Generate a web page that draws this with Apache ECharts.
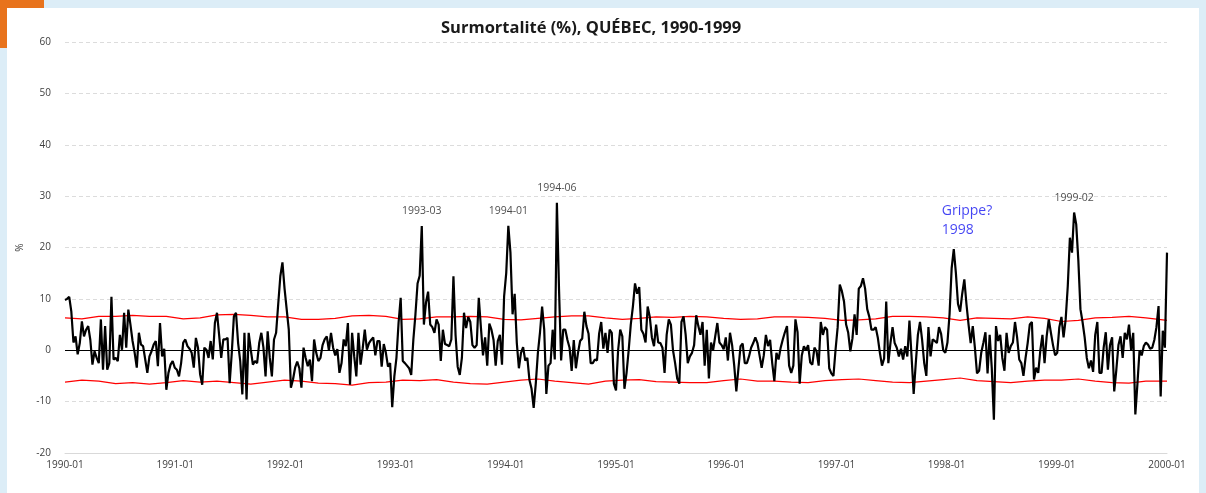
<!DOCTYPE html>
<html><head><meta charset="utf-8">
<script src="https://cdn.jsdelivr.net/npm/echarts@6.0.0/dist/echarts.min.js"></script>
<style>
html,body{margin:0;padding:0;width:1206px;height:493px;overflow:hidden;background:#dcedf7;}
#corner{position:absolute;left:0;top:0;width:44px;height:48px;background:#e8731c;border-bottom-right-radius:28px;}
#chart{position:absolute;left:7px;top:8px;width:1192px;height:485px;background:#fff;}
</style></head><body>
<div id="corner"></div><div id="chart"></div>
<script>
// Weekly excess mortality (%) by year
const excess1990 = [9.8,10.0,10.4,7.5,1.5,2.7,-0.8,1.4,5.6,2.7,4.0,4.7,2.0,-2.8,-0.2,-1.5,-2.5,6.0,-3.8,4.7,-3.8,-2.5,10.4,-1.8,-1.5,-2.1,3.0,0.1,7.3,0.5,7.9,5.0,1.8,-0.5,-3.4,3.4,1.1,0.8,-1.8,-4.4,-1.2,-0.2,1.1,1.8,-3.1,5.3,-1.2,0.3,-7.7,-4.4,-2.8,-2.1];
const excess1991 = [-3.4,-3.8,-5.1,-2.5,1.5,2.1,0.8,0.3,-0.5,-3.4,2.4,0.5,-4.7,-6.7,0.5,0.1,-1.5,1.8,-1.8,5.3,7.3,3.0,-1.5,2.1,2.1,2.4,-6.4,-0.5,6.6,7.3,1.4,-2.1,-8.6,3.4,-9.6,3.4,0.1,-2.8,-2.1,-2.5,1.4,3.4,0.5,-5.1,3.7,-1.5,-5.1,2.1,3.4,9.0,14.4,17.1];
const excess1992 = [12.0,8.0,4.0,-7.3,-5.7,-3.4,-2.2,-3.5,-7.3,0.5,-1.5,-3.1,-1.8,-6.0,2.1,-0.5,-2.1,-1.5,1.0,2.1,2.7,0.0,3.4,0.5,-1.0,0.2,-4.4,-2.5,2.1,0.8,5.3,-6.7,3.4,-1.2,-5.1,3.4,-2.8,0.3,4.0,0.1,1.4,2.0,2.5,-1.0,1.8,1.8,-3.2,1.2,-0.5,-3.2,-2.5,-11.1];
const excess1993 = [-5.1,-1.5,5.3,10.2,-2.1,-2.5,-3.0,-3.5,-4.8,2.0,7.0,13.0,14.5,24.2,5.0,9.3,11.4,5.0,4.5,3.4,6.0,5.0,-2.1,4.0,1.2,1.0,0.8,2.1,14.4,3.0,-3.2,-4.8,-1.5,7.3,4.3,6.5,5.5,1.0,0.5,1.0,10.2,4.5,-1.0,2.5,-3.0,5.2,4.0,2.0,-3.0,1.8,3.0,-2.8];
const excess1994 = [10.5,15.0,24.2,19.0,7.0,11.0,1.5,-3.5,-0.5,0.6,-2.0,-1.5,-5.8,-7.5,-11.2,-6.5,-0.5,3.5,8.5,4.0,-8.5,-3.0,-2.5,4.0,-1.8,28.7,12.0,-2.0,4.0,4.0,2.0,0.5,-4.0,2.0,-3.5,-0.5,1.8,2.3,7.5,4.7,3.2,-2.5,-2.5,-1.8,-2.0,3.2,5.5,0.3,3.4,-0.5,4.0,3.4];
const excess1995 = [-6.5,-7.8,0.0,4.0,2.7,-7.5,-4.4,0.0,5.0,8.5,13.0,11.0,12.3,4.0,3.2,1.5,8.5,6.5,2.5,0.8,5.0,1.5,1.4,0.5,-4.4,3.0,6.0,5.0,0.0,-2.5,-5.5,-6.5,5.5,6.6,3.0,-2.5,-1.2,-0.5,1.0,6.8,4.7,3.0,5.5,-3.0,4.0,-5.5,1.5,0.0,2.7,5.3,1.5,1.0];
const excess1996 = [0.2,2.5,-2.0,3.4,1.0,-3.0,-8.0,-3.5,0.8,1.3,-2.5,-2.5,-1.2,0.5,1.4,2.5,1.4,-1.0,-3.4,-1.0,3.0,0.8,2.0,-2.5,-6.0,-0.5,-1.8,0.5,2.1,3.5,4.7,-3.0,-4.4,-3.0,6.0,3.5,-6.5,-1.0,0.8,0.0,1.0,-2.4,-2.8,0.5,-0.2,-3.0,5.5,3.0,4.5,4.0,-3.5,-4.5];
const excess1997 = [-5.0,0.1,4.5,12.8,11.5,9.5,5.0,3.4,-0.2,2.3,7.0,3.0,12.0,12.5,14.0,12.0,8.0,6.5,4.0,4.0,4.5,2.5,-0.5,-3.0,-1.6,9.5,-2.5,1.4,4.5,1.4,0.5,-1.2,0.3,-1.8,0.8,-1.2,5.8,-1.2,-8.5,-2.5,3.0,5.5,2.0,-2.5,-5.0,4.5,-1.2,2.1,1.8,1.4,4.5,3.2];
const excess1998 = [0.0,-0.5,1.5,7.0,16.0,19.7,15.0,9.0,7.5,11.0,13.8,9.0,5.0,1.4,4.7,0.5,-4.5,-4.0,-0.5,1.4,3.5,-4.5,3.0,-3.5,-13.5,4.7,1.8,3.0,-1.5,-4.0,3.4,-0.5,0.8,1.5,5.5,2.5,-1.8,-2.5,-5.0,-1.5,1.4,5.0,5.5,-5.7,-3.4,-4.4,0.0,3.0,-2.5,2.7,6.0,3.4];
const excess1999 = [1.0,-1.0,-0.5,4.5,6.5,2.5,6.0,12.5,21.9,19.0,26.8,24.5,17.5,8.0,5.5,2.5,-1.5,-3.5,-2.0,-4.2,3.0,5.5,-4.4,-4.4,0.5,3.5,-3.8,1.0,2.5,-8.0,-3.8,1.0,2.7,-1.5,3.4,2.1,5.0,0.0,3.4,-12.5,-6.5,0.0,-1.0,0.8,1.5,1.1,0.3,0.5,2.0,4.5,8.6,-9.0,3.8,0.5,19.0];

// Upper / lower thresholds, sampled every 8 weeks (last value at the end of 1999)
const upperBound = [6.3,6.1,6.6,6.6,6.8,6.6, 6.6,6.1,6.3,6.9,7.0,6.8, 6.5,6.5,6.0,6.0,6.2,6.7, 6.8,6.6,6.0,6.1,6.5,6.5, 6.6,6.5,6.0,5.9,6.2,6.5, 6.7,6.7,6.3,6.0,6.2,6.5, 6.4,6.6,6.5,6.2,6.0,6.1, 6.5,6.5,6.4,6.2,5.8,5.9, 6.1,6.6,6.6,6.5,6.3,5.8, 6.3,6.2,6.1,6.5,6.2,5.6, 5.8,6.3,6.4,6.6,6.3,5.9,5.8];
const lowerBound = [-6.2,-5.8,-6.0,-6.5,-6.3,-6.6, -6.3,-5.9,-6.2,-6.0,-6.3,-6.6, -6.2,-5.8,-6.0,-6.4,-6.5,-6.8, -6.3,-6.2,-5.8,-5.9,-5.7,-6.2, -6.5,-6.6,-6.2,-5.8,-5.6,-6.0, -6.3,-6.6,-6.0,-5.8,-5.7,-6.1, -6.2,-6.3,-6.3,-5.9,-5.6,-6.0, -6.0,-6.2,-6.3,-5.9,-5.7,-5.6, -5.9,-6.2,-6.3,-6.0,-5.7,-5.4, -5.9,-6.1,-6.3,-6.0,-5.8,-5.8, -5.6,-6.0,-6.3,-6.4,-6.0,-6.0,-6.0];

// Peak annotations: week index from 1990-01 and text
const peakWeeks = [169, 210, 233, 478];
const peakLabels = ['1993-03', '1994-01', '1994-06', '1999-02'];
const fluWeek = 421;
const fluLabel = 'Grippe?\n1998';

const yearTicks = [1990,1991,1992,1993,1994,1995,1996,1997,1998,1999,2000];

const excess = [].concat(excess1990, excess1991, excess1992, excess1993, excess1994,
  excess1995, excess1996, excess1997, excess1998, excess1999);
const nWeeks = excess.length - 1;
const xOf = i => 1990 + i * 10 / nWeeks;
const boundWeek = k => (k < upperBound.length - 1 ? k * 8 : nWeeks);

const mainData = excess.map((v, i) => [xOf(i), v]);
const upperData = upperBound.map((v, k) => [xOf(boundWeek(k)), v]);
const lowerData = lowerBound.map((v, k) => [xOf(boundWeek(k)), v]);
const peakData = peakWeeks.map((w, j) => ({ name: peakLabels[j], value: [xOf(w), excess[w]] }));

const FONT = '"Open Sans", Lato, sans-serif';
const chart = echarts.init(document.getElementById('chart'));
chart.setOption({
  animation: false,
  title: {
    text: 'Surmortalité (%), QUÉBEC, 1990-1999',
    left: 429, top: 7,
    textStyle: { fontFamily: FONT, fontSize: 16.5, fontWeight: 'bold', color: '#1a1a1a' }
  },
  grid: { left: 58, right: 32, top: 34, bottom: 40 },
  xAxis: {
    type: 'value', min: yearTicks[0], max: yearTicks[yearTicks.length - 1], interval: 1,
    axisLine: { show: true, onZero: false, lineStyle: { color: '#d9d9d9' } },
    axisTick: { show: false },
    splitLine: { show: false },
    axisLabel: { formatter: v => v + '-01', fontFamily: FONT, fontSize: 10, color: '#404040', margin: 7 }
  },
  yAxis: {
    type: 'value', min: -20, max: 60, interval: 10,
    name: '%', nameLocation: 'middle', nameGap: 30, nameRotate: 90,
    nameTextStyle: { fontFamily: FONT, fontSize: 10, color: '#404040' },
    axisLine: { show: false }, axisTick: { show: false },
    splitLine: { lineStyle: { type: [4, 3], color: '#dcdcdc' } },
    axisLabel: { fontFamily: FONT, fontSize: 10, color: '#404040', margin: 14 }
  },
  series: [
    { type: 'line', data: upperData, symbol: 'none', lineStyle: { color: '#ff0000', width: 1.2 }, z: 2 },
    { type: 'line', data: lowerData, symbol: 'none', lineStyle: { color: '#ff0000', width: 1.2 }, z: 2,
      markLine: { silent: true, symbol: 'none', label: { show: false },
        lineStyle: { color: '#000', width: 1, type: 'solid' }, data: [{ yAxis: 0 }] } },
    { type: 'line', data: mainData, symbol: 'none', lineStyle: { color: '#000', width: 2.2 }, z: 3 },
    { type: 'scatter', data: peakData, symbolSize: 0, z: 4,
      label: { show: true, position: 'top', distance: 9, formatter: p => p.name,
        fontFamily: FONT, fontSize: 10.5, color: '#1a1a1a' } },
    { type: 'scatter', data: [{ name: fluLabel, value: [xOf(fluWeek), excess[fluWeek]] }], symbolSize: 0, z: 4,
      label: { show: true, position: 'top', distance: 10, align: 'left', offset: [-12, 0],
        formatter: p => p.name, fontFamily: FONT, fontSize: 14, lineHeight: 19, color: '#1414f0' } }
  ]
});
</script>
</body></html>
